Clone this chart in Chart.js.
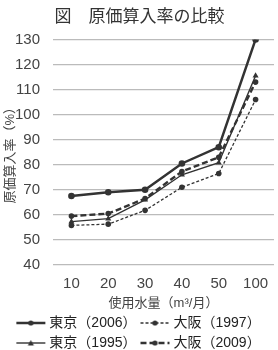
<!DOCTYPE html>
<html lang="ja">
<head>
  <meta charset="UTF-8">
  <title>原価算入率の比較</title>
  <script src="https://cdn.jsdelivr.net/npm/chart.js"></script>
  <style>
    body { margin: 0; background: #fff; }
    #wrap { width: 278px; height: 350px; }
  </style>
</head>
<body>
  <div id="wrap"><canvas id="rateChart" width="278" height="350"></canvas></div>

  <script>
    // data
    const usage = ['10', '20', '30', '40', '50', '100'];
    const seriesNames = ['東京（2006）', '大阪（1997）', '東京（1995）', '大阪（2009）'];
    const tokyo2006 = [67.5, 69, 70, 80.5, 87, 130];
    const osaka1997 = [55.8, 56.3, 61.8, 71, 76.5, 106];
    const tokyo1995 = [57.3, 58.5, 66, 76, 80.8, 115.5];
    const osaka2009 = [59.5, 60.5, 66.5, 77.3, 83, 113];

    const ink = '#333';
    const jpFont = "'Liberation Sans', 'Noto Sans CJK JP', sans-serif";

    // little line sample + marker for the legend (wider than the legend box on purpose)
    function legendSample(width, dash, marker) {
      const c = document.createElement('canvas');
      c.width = 32; c.height = 10;
      const g = c.getContext('2d');
      g.strokeStyle = ink;
      g.fillStyle = ink;
      g.lineWidth = width;
      g.setLineDash(dash);
      g.beginPath();
      g.moveTo(2, 5); g.lineTo(31, 5);
      g.stroke();
      g.setLineDash([]);
      g.beginPath();
      if (marker === 'triangle') {
        g.moveTo(16.5, 2); g.lineTo(19.5, 7.5); g.lineTo(13.5, 7.5); g.closePath();
      } else {
        g.arc(16.5, 5, 2.6, 0, Math.PI * 2);
      }
      g.fill();
      return c;
    }

    const styles = [
      { width: 2.5, dash: [], marker: 'circle', radius: 3.3 },
      { width: 1.3, dash: [3, 2], marker: 'circle', radius: 2.8 },
      { width: 1.4, dash: [], marker: 'triangle', radius: 3.5 },
      { width: 2.4, dash: [6, 3], marker: 'circle', radius: 2.8 }
    ];
    const values = [tokyo2006, osaka1997, tokyo1995, osaka2009];

    const datasets = values.map((v, i) => ({
      label: seriesNames[i],
      data: v,
      borderColor: ink,
      backgroundColor: ink,
      borderWidth: styles[i].width,
      borderDash: styles[i].dash,
      pointStyle: styles[i].marker,
      pointRadius: styles[i].radius,
      pointBorderWidth: 0,
      tension: 0,
      fill: false
    }));

    new Chart(document.getElementById('rateChart'), {
      type: 'line',
      data: { labels: usage, datasets: datasets },
      options: {
        responsive: false,
        animation: false,
        layout: { padding: { top: 0, right: 2, bottom: -10, left: 3 } },
        plugins: {
          title: {
            display: true,
            text: '図　原価算入率の比較',
            color: ink,
            font: { family: "'Noto Sans CJK JP', sans-serif", size: 17, weight: 'normal' },
            padding: { top: 5, bottom: 14 }
          },
          legend: {
            position: 'bottom',
            labels: {
              usePointStyle: true,
              pointStyleWidth: 24,
              boxHeight: 10,
              padding: 6,
              color: '#222',
              font: { family: jpFont, size: 14 },
              generateLabels: chart => chart.data.datasets.map((ds, i) => ({
                text: ds.label,
                pointStyle: legendSample(styles[i].width, styles[i].dash, styles[i].marker),
                fillStyle: ink,
                strokeStyle: ink,
                lineWidth: 0,
                fontColor: '#222',
                datasetIndex: i
              }))
            }
          },
          tooltip: { enabled: false }
        },
        scales: {
          x: {
            offset: true,
            grid: { display: false },
            border: { display: false },
            ticks: { color: '#444', font: { family: jpFont, size: 15, lineHeight: 1.0 }, padding: 3 },
            title: {
              display: true,
              text: '使用水量（m³/月）',
              color: '#444',
              font: { family: jpFont, size: 13, lineHeight: 1.0 },
              padding: { top: 3, bottom: 0 }
            }
          },
          y: {
            min: 40,
            max: 130,
            afterFit: scale => { scale.width = 50; },
            ticks: { stepSize: 10, color: '#444', font: { family: jpFont, size: 15 }, padding: 13 },
            grid: { color: '#bbb', lineWidth: 1.2, drawTicks: false },
            border: { display: false },
            title: {
              display: true,
              text: '原価算入率（%）',
              color: '#444',
              font: { family: jpFont, size: 13 },
              padding: { top: 0, bottom: 0 }
            }
          }
        }
      }
    });
  </script>
</body>
</html>
